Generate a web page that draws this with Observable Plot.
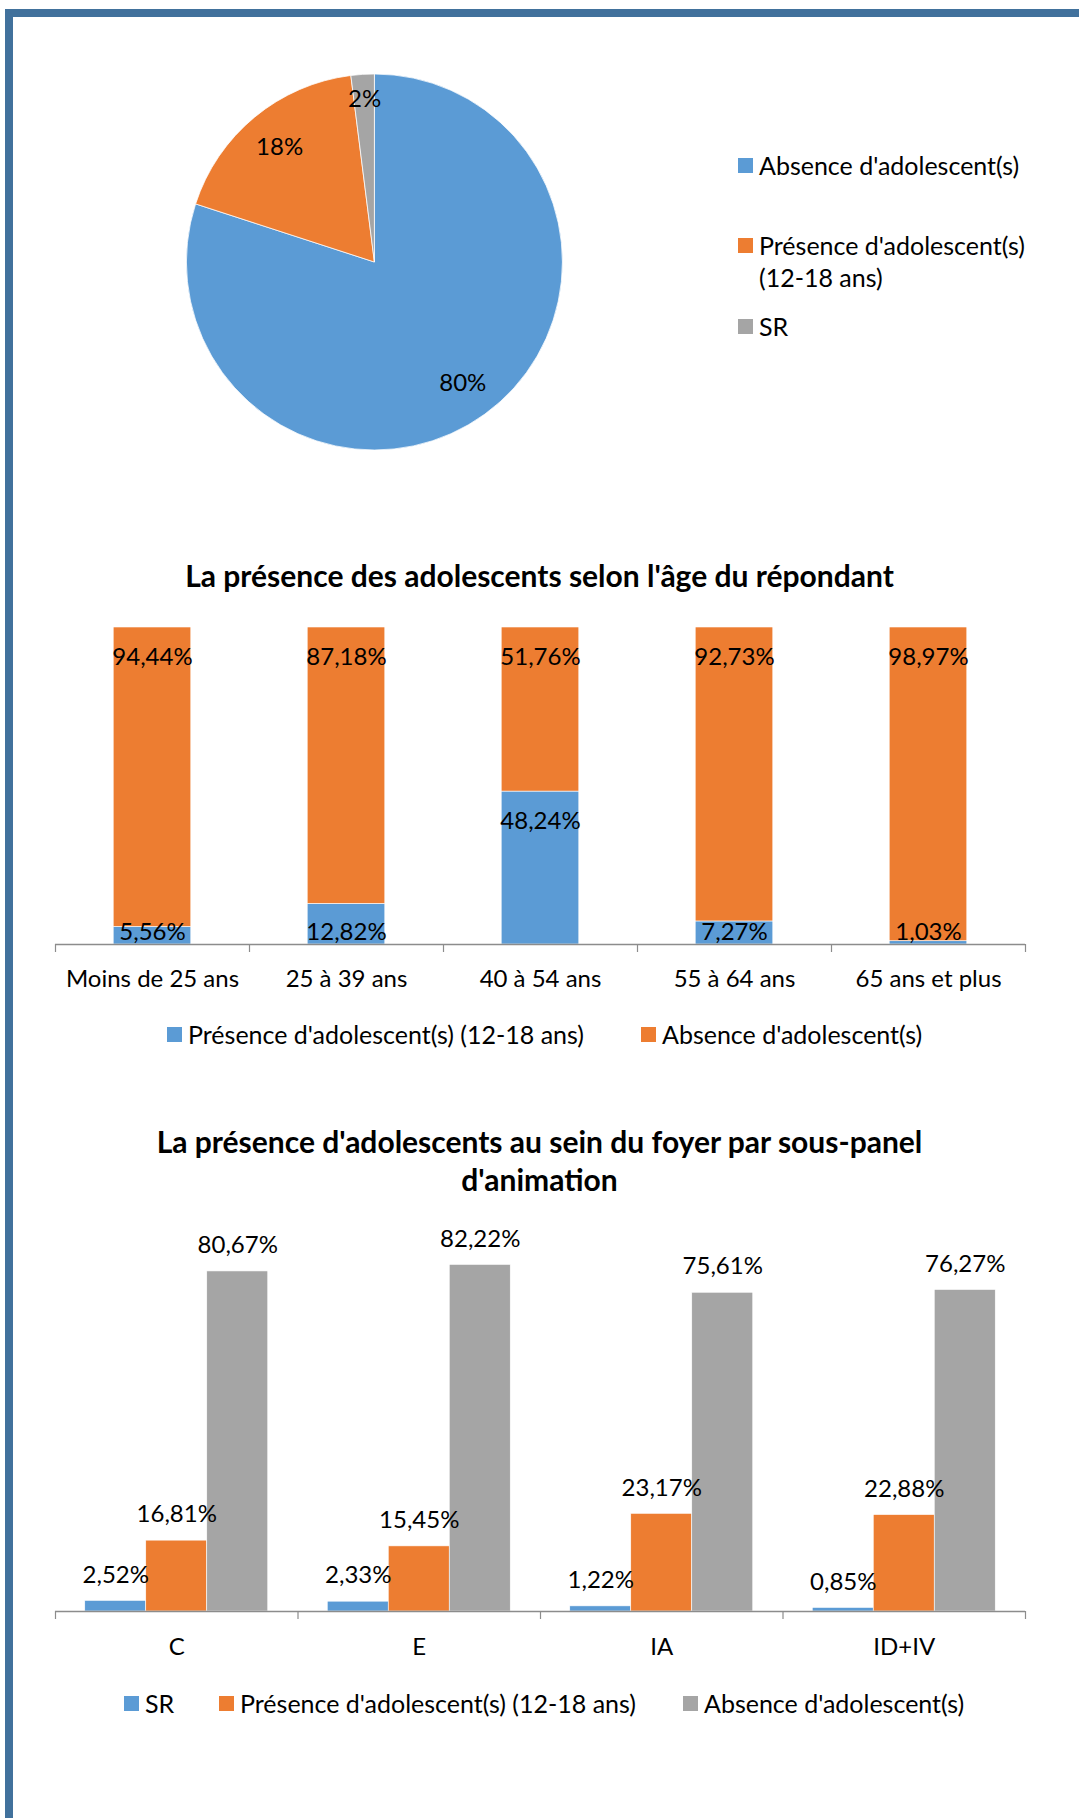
<!DOCTYPE html>
<html><head><meta charset="utf-8">
<script src="https://cdn.jsdelivr.net/npm/d3@7"></script>
<script src="https://cdn.jsdelivr.net/npm/@observablehq/plot@0.6"></script>
<style>
html,body{margin:0;padding:0;background:#fff;}
#page{position:relative;width:1079px;height:1818px;overflow:hidden;font-family:Lato,"Open Sans",sans-serif;color:#000;}
.frame{position:absolute;left:5px;top:9px;right:-10px;bottom:-10px;border-top:8px solid #41719C;border-left:8px solid #41719C;z-index:5;pointer-events:none;}
.pw{position:absolute;left:0;}
.title{position:absolute;left:0;width:1079px;text-align:center;font-weight:700;font-size:30px;line-height:38px;white-space:nowrap;}
.sq{position:absolute;width:15px;height:15px;}
.lt{position:absolute;font-size:25px;line-height:32px;white-space:nowrap;}
</style></head>
<body><div id="page"><div class="frame"></div></div>
<script>
// ---------- data ----------
const pieCategories = ["Absence d'adolescent(s)", "Présence d'adolescent(s) (12-18 ans)", "SR"];
const pieValues = [80, 18, 2];

const ageCategories = ["Moins de 25 ans", "25 à 39 ans", "40 à 54 ans", "55 à 64 ans", "65 ans et plus"];
const agePresence = [5.56, 12.82, 48.24, 7.27, 1.03];
const ageAbsence = [94.44, 87.18, 51.76, 92.73, 98.97];

const panelCategories = ["C", "E", "IA", "ID+IV"];
const panelSR = [2.52, 2.33, 1.22, 0.85];
const panelPresence = [16.81, 15.45, 23.17, 22.88];
const panelAbsence = [80.67, 82.22, 75.61, 76.27];

const BLUE = "#5B9BD5", ORANGE = "#ED7D31", GREY = "#A5A5A5", AXIS = "#8C8C8C";
const pieColors = [BLUE, ORANGE, GREY];
const fmt = v => v.toFixed(2).replace(".", ",") + "%";

const page = document.getElementById("page");
function place(node, top) {
  const w = document.createElement("div");
  w.className = "pw"; w.style.top = top + "px";
  w.appendChild(node); page.appendChild(w);
}
function title(lines, top) {
  const d = document.createElement("div");
  d.className = "title"; d.style.top = top + "px";
  d.innerHTML = lines.join("<br>");
  page.appendChild(d);
}
function legendItem(color, text, left, cy, lines) {
  const s = document.createElement("div");
  s.className = "sq"; s.style.background = color;
  s.style.left = left + "px"; s.style.top = (cy - 7.5) + "px";
  page.appendChild(s);
  const t = document.createElement("div");
  t.className = "lt"; t.style.left = (left + 21) + "px"; t.style.top = (cy - 16) + "px";
  t.innerHTML = (lines || [text]).join("<br>");
  page.appendChild(t);
}
const baseStyle = {background: "transparent", fontFamily: "Lato, 'Open Sans', sans-serif", fontSize: "24px", color: "#000", overflow: "visible"};

// ---------- pie ----------
const pieRows = pieCategories.map((c, i) => ({category: c, value: pieValues[i], color: pieColors[i]}));
const arcs = d3.pie().sort(null).value(d => d.value)(pieRows);
const pieLabels = arcs.map(a => {
  const m = (a.startAngle + a.endAngle) / 2;
  const rr = a.data.value < 5 ? 0.87 : 0.795; // small slices: label pushed toward the rim
  return {x: Math.sin(m) * rr, y: Math.cos(m) * rr, text: a.data.value + "%"};
});
function pieMark(index, scales) {
  const cx = scales.x(0), cy = scales.y(0), r = scales.x(1) - scales.x(0);
  const arc = d3.arc().innerRadius(0).outerRadius(r);
  const g = d3.create("svg:g").attr("transform", `translate(${cx},${cy})`);
  g.selectAll("path").data(arcs).join("path")
    .attr("d", arc).attr("fill", d => d.data.color)
    .attr("stroke", "#fff").attr("stroke-width", 0.75);
  return g.node();
}
place(Plot.plot({
  width: 1079, height: 450,
  marginLeft: 186.4, marginRight: 516.6, marginTop: 34, marginBottom: 40,
  x: {domain: [-1, 1], axis: null},
  y: {domain: [-1, 1], axis: null},
  style: baseStyle,
  marks: [
    pieMark,
    Plot.text(pieLabels, {x: "x", y: "y", text: "text", fontSize: 24, fill: "#000"})
  ]
}), 40);
legendItem(BLUE, pieCategories[0], 738, 165);
legendItem(ORANGE, null, 738, 245, ["Présence d'adolescent(s)", "(12-18 ans)"]);
legendItem(GREY, pieCategories[2], 738, 326);

// ---------- chart 2 : stacked ----------
title(["La présence des adolescents selon l'âge du répondant"], 556);
const ageRows = [];
ageCategories.forEach((c, i) => ageRows.push({age: c, series: "Présence", value: agePresence[i]}));
ageCategories.forEach((c, i) => ageRows.push({age: c, series: "Absence", value: ageAbsence[i]}));
const ageLabels = [];
ageCategories.forEach((c, i) => {
  ageLabels.push({age: c, top: agePresence[i] + ageAbsence[i], text: fmt(ageAbsence[i]), big: true});
  ageLabels.push({age: c, top: agePresence[i], text: fmt(agePresence[i]), big: agePresence[i] > 13.2});
});
const step2 = (1079 - 55 - 54) / ageCategories.length;
place(Plot.plot({
  width: 1079, height: 400,
  marginLeft: 55, marginRight: 54, marginTop: 27, marginBottom: 56,
  x: {domain: ageCategories, paddingInner: 0.6, paddingOuter: 0.3, round: false, axis: null},
  y: {domain: [0, 100], axis: null},
  color: {domain: ["Présence", "Absence"], range: [BLUE, ORANGE]},
  style: baseStyle,
  marks: [
    Plot.barY(ageRows, {x: "age", y: "value", fill: "series", stroke: "#fff", strokeWidth: 0.6}),
    Plot.ruleY([0], {stroke: AXIS, strokeWidth: 1.5}),
    Plot.ruleX(ageCategories, {x: d => d, y: 0, dx: -step2 / 2, insetBottom: -8, stroke: AXIS, strokeWidth: 1.2}),
    Plot.ruleX(ageCategories.slice(-1), {x: d => d, y: 0, dx: step2 / 2, insetBottom: -8, stroke: AXIS, strokeWidth: 1.2}),
    Plot.text(ageLabels.filter(d => d.big), {x: "age", y: "top", text: "text", dy: 30, fontSize: 24, fill: "#000"}),
    Plot.text(ageLabels.filter(d => !d.big), {x: "age", y: 0, text: "text", dy: -12, fontSize: 24, fill: "#000"}),
    Plot.text(ageCategories, {x: d => d, frameAnchor: "bottom", dy: 42, fontSize: 24, fill: "#000"})
  ]
}), 600);
legendItem(BLUE, "Présence d'adolescent(s) (12-18 ans)", 167, 1034);
legendItem(ORANGE, "Absence d'adolescent(s)", 641, 1034);

// ---------- chart 3 : grouped ----------
title(["La présence d'adolescents au sein du foyer par sous-panel", "d'animation"], 1122);
const step3 = (1079 - 55 - 54) / panelCategories.length;
const bw3 = 61;
const seriesDefs = [
  {name: "SR", values: panelSR, color: BLUE, dx: -bw3},
  {name: "Présence", values: panelPresence, color: ORANGE, dx: 0},
  {name: "Absence", values: panelAbsence, color: GREY, dx: bw3}
];
const bars3 = [], texts3 = [];
seriesDefs.forEach(s => {
  const rows = panelCategories.map((c, i) => ({panel: c, value: s.values[i]}));
  bars3.push(Plot.barY(rows, {x: "panel", y: "value", fill: s.color, dx: s.dx, stroke: "#fff", strokeWidth: 0.6}));
  texts3.push(Plot.text(rows, {x: "panel", y: "value", text: d => fmt(d.value), dx: s.dx, dy: -26, fontSize: 24, fill: "#000"}));
});
place(Plot.plot({
  width: 1079, height: 461,
  marginLeft: 55, marginRight: 54, marginTop: 31.6, marginBottom: 50,
  x: {domain: panelCategories, paddingInner: 1 - bw3 / step3, paddingOuter: (1 - bw3 / step3) / 2, round: false, axis: null},
  y: {domain: [0, 90], axis: null},
  style: baseStyle,
  marks: [
    ...bars3,
    Plot.ruleY([0], {stroke: AXIS, strokeWidth: 1.5}),
    Plot.ruleX(panelCategories, {x: d => d, y: 0, dx: -step3 / 2, insetBottom: -8, stroke: AXIS, strokeWidth: 1.2}),
    Plot.ruleX(panelCategories.slice(-1), {x: d => d, y: 0, dx: step3 / 2, insetBottom: -8, stroke: AXIS, strokeWidth: 1.2}),
    ...texts3,
    Plot.text(panelCategories, {x: d => d, frameAnchor: "bottom", dy: 43, fontSize: 24, fill: "#000"})
  ]
}), 1200);
legendItem(BLUE, "SR", 124, 1703);
legendItem(ORANGE, "Présence d'adolescent(s) (12-18 ans)", 219, 1703);
legendItem(GREY, "Absence d'adolescent(s)", 683, 1703);
</script>
</body></html>
